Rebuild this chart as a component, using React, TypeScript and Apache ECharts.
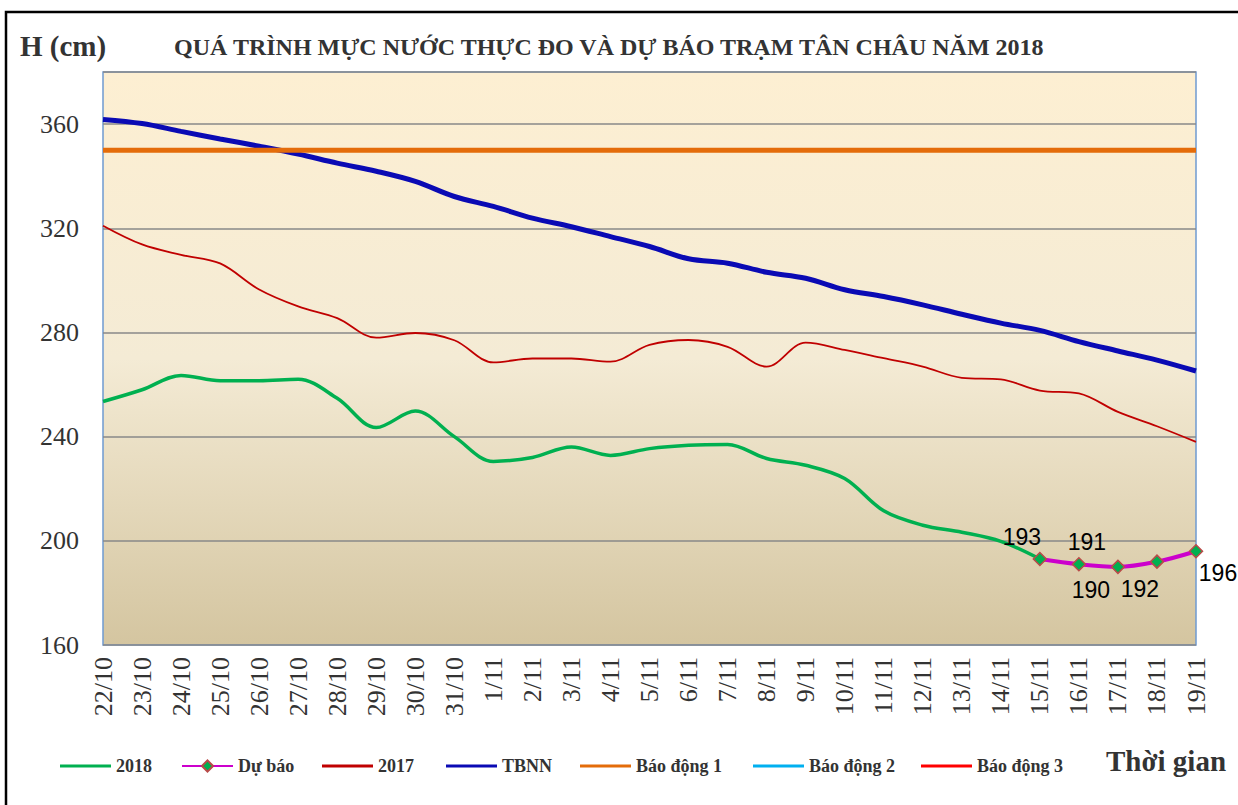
import React, { useEffect, useRef } from "react";
import * as echarts from "echarts";

const categories = [
  "22/10", "23/10", "24/10", "25/10", "26/10", "27/10", "28/10", "29/10", "30/10", "31/10",
  "1/11", "2/11", "3/11", "4/11", "5/11", "6/11", "7/11", "8/11", "9/11", "10/11",
  "11/11", "12/11", "13/11", "14/11", "15/11", "16/11", "17/11", "18/11", "19/11",
];

const h2018 = [
  253.5, 258, 263.5, 261.5, 261.5, 262, 254.7, 243.5, 249.8, 240,
  230.5, 232, 236, 232.8, 235.4, 236.7, 237, 231.6, 229, 223.9,
  211.5, 206, 203.3, 199.8, 193,
];

const forecastDays = ["15/11", "16/11", "17/11", "18/11", "19/11"];
const forecast = [193, 191, 190, 192, 196];

const h2017 = [
  321, 313.8, 309.8, 306.5, 296.5, 290, 285.5, 278, 279.8, 277,
  268.5, 270, 270, 268.8, 275.2, 277.1, 274.5, 266.9, 276.1, 273.3,
  270.1, 266.9, 262.6, 262, 257.7, 256.6, 249.5, 244, 238,
];

const tbnn = [
  361.8, 360.2, 357.2, 354.3, 351.5, 348.5, 345, 341.9, 338, 332.2,
  328.4, 323.9, 320.6, 316.8, 313, 308.3, 306.6, 303.1, 300.8, 296.4,
  293.8, 290.6, 287, 283.6, 280.8, 276.5, 272.9, 269.4, 265.2,
];

const alarm1 = 350;
const alarm2 = 400;
const alarm3 = 450;

const yTicks = { min: 160, max: 380, interval: 40 };

// label offsets (style, not data) for the forecast points
const forecastLabelOffsets = [
  [-18, -22],
  [8, -22],
  [-27, 23],
  [-17, 27],
  [22, 22],
];

export default function App() {
  const ref = useRef<HTMLDivElement>(null);

  useEffect(() => {
    document.body.style.margin = "0";
    const chart = echarts.init(ref.current!, null, { renderer: "svg" });
    const serif = "'Liberation Serif', 'Times New Roman', serif";

    const d2018 = categories.map((_, i) => (i < h2018.length ? h2018[i] : null));
    const dForecast = categories.map((c) => {
      const k = forecastDays.indexOf(c);
      if (k < 0) return null;
      return {
        value: forecast[k],
        label: { offset: forecastLabelOffsets[k] },
      };
    });
    const flat = (v: number) => categories.map(() => v);

    const legendDefs = [
      { name: "2018", left: 55, line: true },
      { name: "Dự báo", left: 176, line: false },
      { name: "2017", left: 317, line: true },
      { name: "TBNN", left: 441, line: true },
      { name: "Báo động 1", left: 575, line: true },
      { name: "Báo động 2", left: 748, line: true },
      { name: "Báo động 3", left: 916, line: true },
    ];

    const textStyle = {
      fontFamily: serif,
      fontWeight: "bold",
      fontSize: 18,
      color: "#333333",
    };

    chart.setOption({
      animation: false,
      backgroundColor: "#ffffff",
      title: {
        text: "QUÁ TRÌNH MỰC NƯỚC THỰC ĐO VÀ DỰ BÁO TRẠM TÂN CHÂU NĂM 2018",
        left: 169,
        top: 30,
        textStyle: {
          fontFamily: serif,
          fontWeight: "bold",
          fontSize: 24,
          color: "#333333",
        },
      },
      legend: legendDefs.map((l) =>
        l.line
          ? {
              data: [{ name: l.name, icon: "rect" }],
              left: l.left,
              top: 752,
              itemWidth: 51,
              itemHeight: 3,
              textStyle,
            }
          : {
              data: [l.name],
              left: l.left,
              top: 752,
              itemWidth: 51,
              itemHeight: 14,
              textStyle,
            }
      ),
      graphic: [
        {
          type: "rect",
          shape: { x: 6, y: 12, width: 1400, height: 1000 },
          style: { fill: "none", stroke: "#000000", lineWidth: 2.5 },
          silent: true,
        },
        {
          type: "text",
          left: 20,
          top: 31,
          style: {
            text: "H (cm)",
            font: `bold 29px ${serif}`,
            fill: "#333333",
          },
        },
        {
          type: "text",
          left: 1106,
          top: 746,
          style: {
            text: "Thời gian",
            font: `bold 29px ${serif}`,
            fill: "#333333",
          },
        },
      ],
      grid: {
        left: 103,
        right: 42,
        top: 72,
        bottom: 160,
        show: true,
        borderColor: "#6f9bd1",
        borderWidth: 1.5,
        backgroundColor: new echarts.graphic.LinearGradient(0, 0, 0, 1, [
          { offset: 0, color: "#fdefd2" },
          { offset: 0.5, color: "#f4ebd5" },
          { offset: 1, color: "#d4c5a0" },
        ]),
      },
      xAxis: {
        type: "category",
        data: categories,
        boundaryGap: false,
        axisLine: { show: false },
        axisTick: { show: false },
        axisLabel: {
          rotate: 90,
          margin: 12,
          interval: 0,
          fontFamily: serif,
          fontSize: 26,
          color: "#333333",
        },
        splitLine: { show: false },
      },
      yAxis: {
        type: "value",
        min: yTicks.min,
        max: yTicks.max,
        interval: yTicks.interval,
        axisLine: { show: false },
        axisTick: { show: false },
        axisLabel: {
          margin: 24,
          showMaxLabel: false,
          fontFamily: serif,
          fontSize: 26,
          color: "#333333",
        },
        splitLine: { lineStyle: { color: "#888888", width: 1.5 } },
      },
      series: [
        {
          name: "2018",
          type: "line",
          data: d2018,
          smooth: 0.35,
          symbol: "none",
          lineStyle: { color: "#00b050", width: 3.5 },
          itemStyle: { color: "#00b050" },
          connectNulls: false,
        },
        {
          name: "Dự báo",
          type: "line",
          data: dForecast,
          smooth: 0.35,
          symbol: "diamond",
          symbolSize: 13,
          lineStyle: { color: "#cc00cc", width: 4 },
          itemStyle: { color: "#00b050", borderColor: "#b94a48", borderWidth: 1.5 },
          label: {
            show: true,
            position: "inside",
            fontFamily: "'Liberation Sans', Arial, sans-serif",
            fontSize: 23,
            color: "#000000",
          },
          z: 5,
        },
        {
          name: "2017",
          type: "line",
          data: h2017,
          smooth: 0.35,
          symbol: "none",
          lineStyle: { color: "#c00000", width: 1.8 },
          itemStyle: { color: "#c00000" },
        },
        {
          name: "TBNN",
          type: "line",
          data: tbnn,
          smooth: 0.35,
          symbol: "none",
          lineStyle: { color: "#0a0ab4", width: 5 },
          itemStyle: { color: "#0a0ab4" },
        },
        {
          name: "Báo động 1",
          type: "line",
          data: flat(alarm1),
          symbol: "none",
          lineStyle: { color: "#e46c0a", width: 5 },
          itemStyle: { color: "#e46c0a" },
        },
        {
          name: "Báo động 2",
          type: "line",
          data: flat(alarm2),
          symbol: "none",
          lineStyle: { color: "#00b0f0", width: 3 },
          itemStyle: { color: "#00b0f0" },
        },
        {
          name: "Báo động 3",
          type: "line",
          data: flat(alarm3),
          symbol: "none",
          lineStyle: { color: "#ff0000", width: 3 },
          itemStyle: { color: "#ff0000" },
        },
      ],
    });
    return () => chart.dispose();
  }, []);

  return (
    <div
      ref={ref}
      style={{ position: "fixed", left: 0, top: 0, width: 1238, height: 805 }}
    />
  );
}
